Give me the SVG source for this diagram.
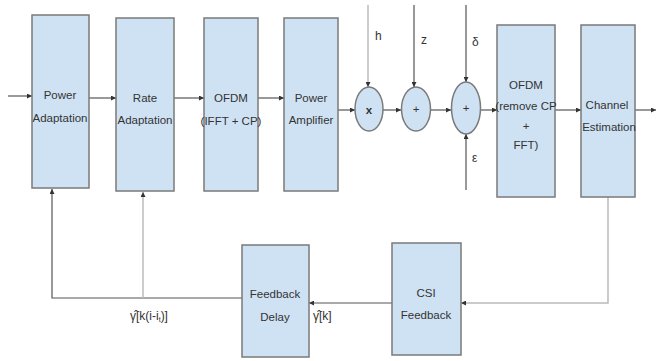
<svg xmlns="http://www.w3.org/2000/svg" width="656" height="361" viewBox="0 0 656 361">
<style>
.box{fill:#cfe2f3;stroke:#7a7a7a;stroke-width:1.5}
.t{font-family:"Liberation Sans",Arial,sans-serif;font-size:11.5px;fill:#333;text-anchor:middle}
.lbl{font-family:"Liberation Sans",Arial,sans-serif;font-size:12px;fill:#333}
.c{fill:none;stroke:#555;stroke-width:1.2}
.cl{fill:none;stroke:#bbb;stroke-width:1.5}
</style>
<defs>
<marker id="ah" viewBox="0 0 6 6" refX="6" refY="3" markerWidth="5" markerHeight="5" orient="auto" markerUnits="userSpaceOnUse">
<path d="M0,0 L6,3 L0,6 z" fill="#333"/>
</marker>
</defs>
<rect width="656" height="361" fill="#fff"/>
<g id="connectors">
<line class="c" x1="8" y1="96" x2="32" y2="96" marker-end="url(#ah)"/>
<line class="c" x1="89" y1="98" x2="116" y2="98" marker-end="url(#ah)"/>
<line class="c" x1="174" y1="98" x2="204" y2="98" marker-end="url(#ah)"/>
<line class="c" x1="258" y1="98" x2="284" y2="98" marker-end="url(#ah)"/>
<line class="c" x1="338" y1="110" x2="355" y2="110" marker-end="url(#ah)"/>
<line class="c" x1="383" y1="110" x2="401" y2="110" marker-end="url(#ah)"/>
<line class="c" x1="431" y1="110" x2="451" y2="110" marker-end="url(#ah)"/>
<line class="c" x1="481" y1="110" x2="497" y2="110" marker-end="url(#ah)"/>
<line class="c" x1="555" y1="110" x2="581" y2="110" marker-end="url(#ah)"/>
<line class="c" x1="635" y1="110" x2="656" y2="110" marker-end="url(#ah)"/>
<line class="cl" x1="368" y1="5" x2="368" y2="87" marker-end="url(#ah)"/>
<line class="c" x1="414" y1="5" x2="414" y2="87" marker-end="url(#ah)"/>
<line class="c" x1="466" y1="5" x2="466" y2="82" marker-end="url(#ah)"/>
<line class="c" x1="466" y1="190" x2="466" y2="134" marker-end="url(#ah)"/>
<polyline class="cl" points="608,197 608,303 461,303" marker-end="url(#ah)"/>
<line class="c" x1="392" y1="303" x2="309" y2="303" marker-end="url(#ah)"/>
<polyline class="c" points="242,298 52,298 52,189" marker-end="url(#ah)"/>
<polyline class="cl" points="143,298 143,192" marker-end="url(#ah)"/>
</g>
<g id="power-adaptation">
<rect class="box" x="32" y="15" width="57" height="173"/>
<text class="t" x="60" y="99">Power</text>
<text class="t" x="60" y="122">Adaptation</text>
</g>
<g id="rate-adaptation">
<rect class="box" x="116" y="18" width="58" height="173"/>
<text class="t" x="145" y="102">Rate</text>
<text class="t" x="145" y="124">Adaptation</text>
</g>
<g id="ofdm-tx">
<rect class="box" x="204" y="18" width="54" height="173"/>
<text class="t" x="231" y="102">OFDM</text>
<text class="t" x="231" y="125" font-size="9.5">(IFFT + CP)</text>
</g>
<g id="power-amplifier">
<rect class="box" x="284" y="18" width="54" height="173"/>
<text class="t" x="311" y="102">Power</text>
<text class="t" x="311" y="124">Amplifier</text>
</g>
<g id="mult">
<ellipse class="box" cx="369" cy="109" rx="14" ry="22"/>
<text class="t" x="369" y="114" font-size="13" font-weight="bold">x</text>
<text class="lbl" x="375" y="40">h</text>
</g>
<g id="add1">
<ellipse class="box" cx="416" cy="109" rx="14.5" ry="22"/>
<text class="t" x="416" y="113">+</text>
<text class="lbl" x="421" y="44">z</text>
</g>
<g id="add2">
<ellipse class="box" cx="466" cy="108" rx="14.5" ry="26"/>
<text class="t" x="466" y="112" font-size="13">+</text>
<text class="lbl" x="472" y="46">δ</text>
<text class="lbl" x="472" y="162">ε</text>
</g>
<g id="ofdm-rx">
<rect class="box" x="497" y="25" width="58" height="172"/>
<text class="t" x="526" y="89">OFDM</text>
<text class="t" x="526" y="110" font-size="10">(remove CP</text>
<text class="t" x="526" y="130" font-size="9.5">+</text>
<text class="t" x="526" y="149" font-size="9.5">FFT)</text>
</g>
<g id="channel-estimation">
<rect class="box" x="581" y="25" width="54" height="172"/>
<text class="t" x="607" y="109">Channel</text>
<text class="t" x="609" y="131">Estimation</text>
</g>
<g id="feedback-delay">
<rect class="box" x="242" y="245" width="67" height="112"/>
<text class="t" x="275" y="298">Feedback</text>
<text class="t" x="275" y="321">Delay</text>
</g>
<g id="csi-feedback">
<rect class="box" x="392" y="243" width="69" height="112"/>
<text class="t" x="426" y="297">CSI</text>
<text class="t" x="426" y="319">Feedback</text>
</g>
<text class="lbl" x="130" y="320">γ̂[k(i-i<tspan font-size="7" dy="2">t</tspan><tspan dy="-2">)]</tspan></text>
<text class="lbl" x="313" y="320">γ̂[k]</text>
</svg>
